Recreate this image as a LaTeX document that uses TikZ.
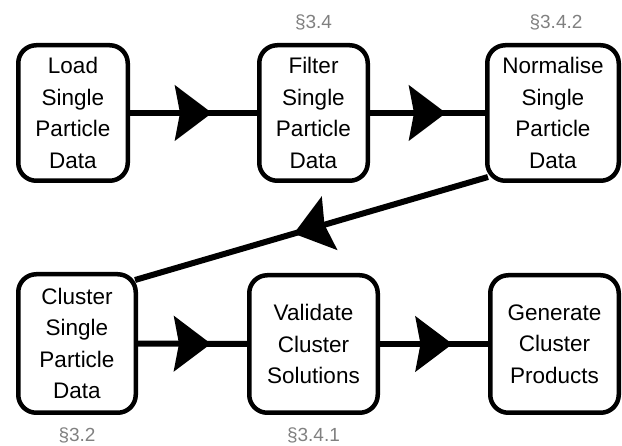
\documentclass[tikz,border=0pt]{standalone}
\usepackage{fontspec}
\setmainfont{Liberation Sans}
\usepackage{tikz}
\usetikzlibrary{positioning}
\usetikzlibrary{arrows.meta}
\usetikzlibrary{decorations.markings}
\definecolor{secgray}{RGB}{128,128,128}
\newcommand\sect[1]{\textcolor{secgray}{\S#1}}

\begin{document}
\begin{tikzpicture}[x=1pt,y=1pt]
\useasboundingbox (0,0) rectangle (622,446);

\tikzstyle{step box}=[
	draw,
	line width=4.5pt,
	rectangle,
	rounded corners=18pt,
	align=center,
	inner sep=0pt,
	font=\fontsize{22.5}{31.5}\selectfont
]
\tikzstyle{flow}=[
	line width=6pt,
	decoration={markings,
		mark=at position 0.5 with {\arrow[xshift=18.5pt]{Stealth[length=37pt,width=55pt,inset=5pt]}}},
	postaction={decorate}
]
\tikzstyle{secref}=[font=\fontsize{19}{22}\selectfont]

%%TOP ROW
\node (load) [step box, minimum width=109.5pt, minimum height=135.5pt] at (73,333)
	{Load\\Single\\Particle\\Data};
\node (filter) [step box, minimum width=108.5pt, minimum height=135.5pt] at (313.5,333)
	{Filter\\Single\\Particle\\Data};
\node (norm) [step box, minimum width=131.5pt, minimum height=135.5pt] at (553,333)
	{Normalise\\Single\\Particle\\Data};

%%BOTTOM ROW
\node (cluster) [step box, minimum width=117.5pt, minimum height=138.5pt] at (77,102.5)
	{Cluster\\Single\\Particle\\Data};
\node (valid) [step box, minimum width=128.5pt, minimum height=137.5pt] at (313.5,102)
	{Validate\\Cluster\\Solutions};
\node (gen) [step box, minimum width=128.5pt, minimum height=137.5pt] at (554.5,102)
	{Generate\\Cluster\\Products};

%% section references
\node (sfilter) [secref, above=14pt of filter.north, anchor=base] {\sect{3.4}};
\node (snorm) [secref, above=14pt of norm.north, anchor=base, xshift=3pt] {\sect{3.4.2}};
\node (scluster) [secref, below=27pt of cluster.south, anchor=base] {\sect{3.2}};
\node (svalid) [secref, below=27pt of valid.south, anchor=base] {\sect{3.4.1}};

\draw [flow] (load) -- (filter);
\draw [flow] (filter) -- (norm);
\draw [flow] ([xshift=3pt,yshift=6pt]norm.south west) -- ([xshift=-3pt,yshift=-8pt]cluster.north east);
\draw [flow] (cluster) -- (valid);
\draw [flow] (valid) -- (gen);

\end{tikzpicture}
\end{document}
